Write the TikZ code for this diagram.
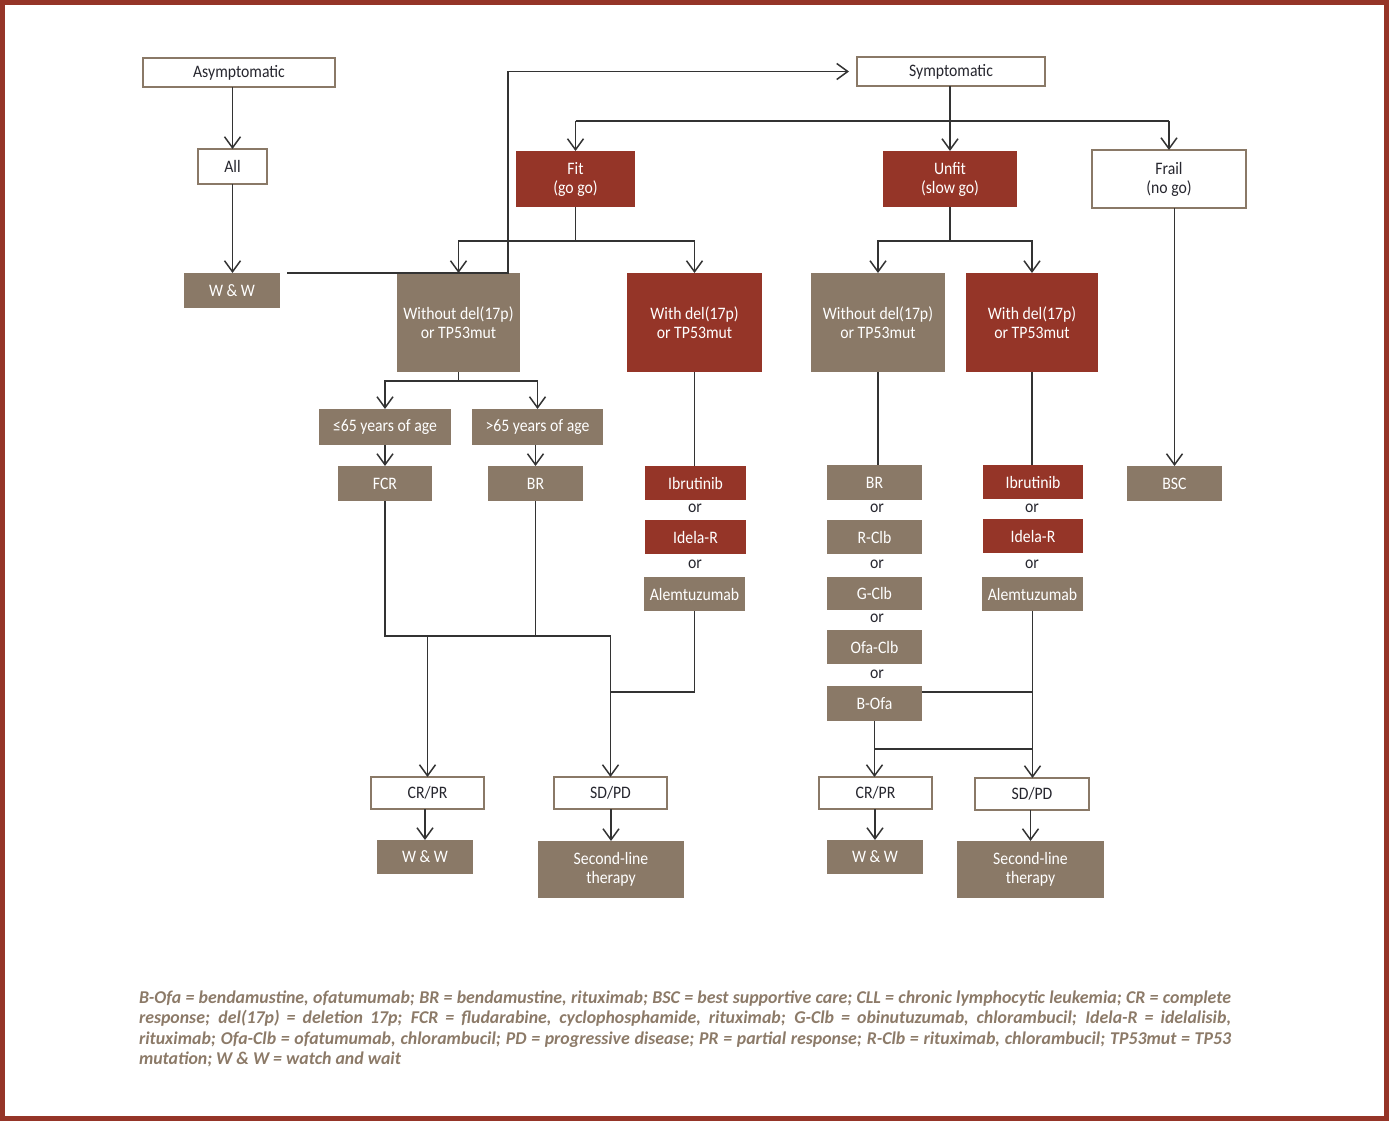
\documentclass[tikz,border=0pt]{standalone}
\usepackage{fontspec}
\setmainfont{Carlito}[FakeStretch=0.9]
\newfontfamily\capfont{Carlito}[FakeStretch=0.99]
\usetikzlibrary{arrows.meta}
\definecolor{redc}{HTML}{953528}
\definecolor{brownc}{HTML}{8A7967}
\definecolor{linec}{HTML}{333333}
\definecolor{txtc}{HTML}{26262E}
\definecolor{capc}{HTML}{8C7A68}
\begin{document}
\begin{tikzpicture}[x=1pt,y=-1pt,
 every node/.style={inner sep=0pt, outer sep=0pt, align=center, font=\fontsize{17.5}{19}\selectfont},
 sz/.style 2 args={minimum width=#1, minimum height=#2},
 wbox/.style={draw=brownc, line width=2pt, fill=white, text=txtc},
 bbox/.style={fill=brownc, text=white},
 rbox/.style={fill=redc, text=white},
 orlbl/.style={text=txtc},
 conn/.style={draw=linec, line width=1.5pt},
 arr/.style={conn, -{Straight Barb[length=11pt,width=16pt]}},
]
\useasboundingbox (0,0) rectangle (1389,1121);
\draw[redc, line width=5pt] (2.5,3) rectangle (1386.5,1118.5);

% top level
\node[wbox, sz={192pt}{29pt}] (asym) at (239,72.5) {Asymptomatic};
\node[wbox, sz={69pt}{35pt}] (all) at (232.5,166.5) {All};
\node[bbox, sz={96pt}{35pt}] (ww1) at (232,290.5) {W \& W};
\node[wbox, sz={188pt}{29pt}] (symp) at (951,71.5) {Symptomatic};

\node[rbox, sz={119pt}{56pt}] (fit) at (575.5,179) {Fit\\(go go)};
\node[rbox, sz={134pt}{56pt}] (unfit) at (950,179) {Unfit\\(slow go)};
\node[wbox, sz={154pt}{58pt}] (frail) at (1169,179) {Frail\\(no go)};

\node[bbox, sz={123pt}{99pt}] (wo1) at (458.5,322.5) {Without del(17p)\\or TP53mut};
\node[rbox, sz={135pt}{99pt}] (wd1) at (694.5,322.5) {With del(17p)\\or TP53mut};
\node[bbox, sz={134pt}{99pt}] (wo2) at (878,322.5) {Without del(17p)\\or TP53mut};
\node[rbox, sz={132pt}{99pt}] (wd2) at (1032,322.5) {With del(17p)\\or TP53mut};

\node[bbox, sz={132pt}{36pt}] (le65) at (385,427) {≤65 years of age};
\node[bbox, sz={131pt}{36pt}] (gt65) at (537.5,427) {>65 years of age};
\node[bbox, sz={94pt}{35pt}] (fcr) at (385,483.5) {FCR};
\node[bbox, sz={95pt}{35pt}] (br1) at (535.5,483.5) {BR};

\node[rbox, sz={101pt}{34pt}] (ibr1) at (695.5,483) {Ibrutinib};
\node[orlbl] (or1) at (695,508) {or};
\node[rbox, sz={101pt}{34pt}] (ide1) at (695.5,537) {Idela-R};
\node[orlbl] (or2) at (695,564) {or};
\node[bbox, sz={101pt}{34pt}] (alem1) at (694.5,594) {Alemtuzumab};

\node[bbox, sz={95pt}{35pt}] (br2) at (874.5,482.5) {BR};
\node[orlbl] (or3) at (877,508) {or};
\node[bbox, sz={95pt}{34pt}] (rclb) at (874.5,537) {R-Clb};
\node[orlbl] (or4) at (877,564) {or};
\node[bbox, sz={95pt}{33pt}] (gclb) at (874.5,593.5) {G-Clb};
\node[orlbl] (or5) at (877,618) {or};
\node[bbox, sz={95pt}{34pt}] (ofaclb) at (874.5,647) {Ofa-Clb};
\node[orlbl] (or6) at (877,674) {or};
\node[bbox, sz={95pt}{35pt}] (bofa) at (874.5,703.5) {B-Ofa};

\node[rbox, sz={100pt}{34pt}] (ibr2) at (1033,482) {Ibrutinib};
\node[orlbl] (or7) at (1032,508) {or};
\node[rbox, sz={100pt}{34pt}] (ide2) at (1033,536) {Idela-R};
\node[orlbl] (or8) at (1032,564) {or};
\node[bbox, sz={101pt}{34pt}] (alem2) at (1032.5,594) {Alemtuzumab};

\node[bbox, sz={95pt}{35pt}] (bsc) at (1174.5,483.5) {BSC};

\node[wbox, sz={113pt}{32pt}] (crpr1) at (427.5,793) {CR/PR};
\node[bbox, sz={96pt}{34pt}] (ww2) at (425,857) {W \& W};
\node[wbox, sz={113pt}{32pt}] (sdpd1) at (610.5,793) {SD/PD};
\node[bbox, sz={146pt}{57pt}] (slt1) at (611,869.5) {Second-line\\therapy};
\node[wbox, sz={113pt}{32pt}] (crpr2) at (875.5,793) {CR/PR};
\node[bbox, sz={96pt}{34pt}] (ww3) at (875,857) {W \& W};
\node[wbox, sz={114pt}{32pt}] (sdpd2) at (1032,794) {SD/PD};
\node[bbox, sz={147pt}{57pt}] (slt2) at (1030.5,869.5) {Second-line\\therapy};

% connectors
\draw[arr] (asym.south -| all.north) -- (all.north);
\draw[arr] (all.south) -- (all.south |- ww1.north);
\coordinate (k1) at (508,273);
\draw[arr, shorten >=8pt] ([xshift=7pt]ww1.north east) -- (k1) |- (symp.west);

\draw[arr] (symp.south -| unfit.north) -- (unfit.north);
\draw[conn] (fit.north |- 0,121) -- (frail.north |- 0,121);
\draw[arr] (fit.north |- 0,121) -- (fit.north);
\draw[arr] (frail.north |- 0,121) -- (frail.north);

\draw[conn] (fit.south) -- (fit.south |- 0,241);
\draw[arr] (fit.south |- 0,241) -| (wo1.north);
\draw[arr] (fit.south |- 0,241) -| (wd1.north);
\draw[conn] (unfit.south) -- (unfit.south |- 0,241);
\draw[arr] (unfit.south |- 0,241) -| (wo2.north);
\draw[arr] (unfit.south |- 0,241) -| (wd2.north);

\draw[arr] (frail.south -| bsc.north) -- (bsc.north);

\draw[conn] (wo1.south) -- (wo1.south |- 0,381);
\draw[arr] (wo1.south |- 0,381) -| (le65.north);
\draw[arr] (wo1.south |- 0,381) -| (gt65.north);
\draw[arr] (le65.south) -- (fcr.north);
\draw[arr] (gt65.south -| br1.north) -- (br1.north);

\coordinate (j1) at (sdpd1.north |- 0,636);
\draw[conn] (fcr.south) |- (j1);
\draw[conn] (br1.south) -- (br1.south |- j1);
\draw[arr] (crpr1.north |- j1) -- (crpr1.north);
\draw[arr] (j1) -- (sdpd1.north);
\draw[conn] (alem1.south) |- (sdpd1.north |- 0,692);

\draw[conn] (wd1.south) -- (wd1.south |- ibr1.north);
\draw[conn] (wo2.south) -- (wo2.south |- br2.north);
\draw[conn] (wd2.south) -- (wd2.south |- ibr2.north);

\draw[arr] (alem2.south) -- (alem2.south |- sdpd2.north);
\draw[conn] (bofa.east |- 0,692) -- (alem2.south |- 0,692);
\draw[arr] (bofa.south) -- (bofa.south |- crpr2.north);
\draw[conn] (bofa.south |- 0,749) -- (alem2.south |- 0,749);

\draw[arr] (crpr1.south -| ww2.north) -- (ww2.north);
\draw[arr] (sdpd1.south -| slt1.north) -- (slt1.north);
\draw[arr] (crpr2.south -| ww3.north) -- (ww3.north);
\draw[arr] (sdpd2.south -| slt2.north) -- (slt2.north);

% caption
\node[anchor=north west, text width=1092pt, align=justify, text=capc,
  font=\capfont\fontsize{18}{20.3}\selectfont\bfseries\itshape] (cap) at (139,991)
{\hyphenpenalty=10000 B-Ofa = bendamustine, ofatumumab; BR = bendamustine, rituximab; BSC = best supportive care; CLL = chronic lymphocytic leukemia; CR = complete\linebreak
response; del(17p) = deletion 17p; FCR = fludarabine, cyclophosphamide, rituximab; G-Clb = obinutuzumab, chlorambucil; Idela-R = idelalisib,\linebreak
rituximab; Ofa-Clb = ofatumumab, chlorambucil; PD = progressive disease; PR = partial response; R-Clb = rituximab, chlorambucil; TP53mut = TP53\linebreak
mutation; W \& W = watch and wait\par};
\end{tikzpicture}
\end{document}
